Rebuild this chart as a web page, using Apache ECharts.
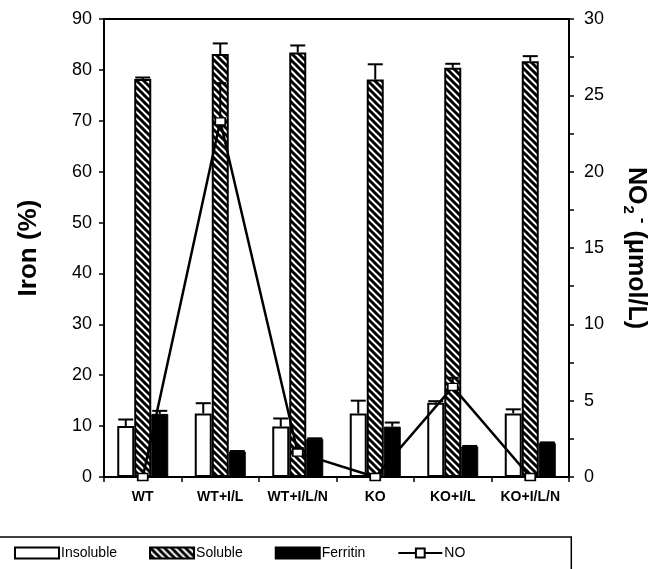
<!DOCTYPE html>
<html>
<head>
<meta charset="utf-8">
<script src="https://cdn.jsdelivr.net/npm/echarts@6/dist/echarts.min.js"></script>
<style>
html,body{margin:0;padding:0;background:#fff;}
#c{width:656px;height:569px;}
</style>
</head>
<body>
<div id="c"></div>
<script>
var categories = ['WT', 'WT+I/L', 'WT+I/L/N', 'KO', 'KO+I/L', 'KO+I/L/N'];
var insoluble = [10.0, 12.5, 9.9, 12.5, 14.6, 12.5];
var insolubleErr = [1.3, 2.0, 1.6, 2.5, 0.3, 0.8];
var soluble = [78.2, 83.1, 83.4, 78.1, 80.4, 81.7];
var solubleErr = [0.3, 2.1, 1.4, 3.0, 0.8, 1.0];
var ferritin = [12.4, 5.0, 7.5, 9.9, 6.0, 6.7];
var ferritinErr = [0.6, 0.1, 0.1, 0.8, 0.1, 0.1];
var no2 = [0, 23.3, 1.6, 0, 5.9, 0];
var no2Err = [0, 2.5, 0.3, 0, 0.6, 0];
var leftTicks = [0, 10, 20, 30, 40, 50, 60, 70, 80, 90];
var rightTicks = [0, 5, 10, 15, 20, 25, 30];

var BAR_W = 17;
var FONT = 'Liberation Sans, Arial, sans-serif';

function makeHatch() {
  var s = 7;
  var cv = document.createElement('canvas');
  cv.width = s; cv.height = s;
  var ctx = cv.getContext('2d');
  ctx.fillStyle = '#fff';
  ctx.fillRect(0, 0, s, s);
  ctx.strokeStyle = '#000';
  ctx.lineWidth = 3;
  ctx.beginPath();
  ctx.moveTo(-1, -1); ctx.lineTo(s + 1, s + 1);
  ctx.moveTo(-1 - s, -1); ctx.lineTo(1, s + 1);
  ctx.moveTo(s - 1, -1); ctx.lineTo(2 * s + 1, s + 1);
  ctx.stroke();
  return cv;
}
var hatch = makeHatch();

function errData(vals, errs) {
  return vals.map(function (v, i) { return [i, v, v + errs[i]]; });
}

function errSeries(vals, errs, offset, capW, yIdx) {
  return {
    type: 'custom',
    yAxisIndex: yIdx || 0,
    z: 10,
    silent: true,
    data: errData(vals, errs),
    renderItem: function (params, api) {
      var top = api.value(2), base = api.value(1);
      if (top - base <= 0) return null;
      var p0 = api.coord([api.value(0), base]);
      var p1 = api.coord([api.value(0), top]);
      var x = p0[0] + offset;
      var st = { stroke: '#000', lineWidth: 2 };
      return {
        type: 'group',
        children: [
          { type: 'line', shape: { x1: x, y1: p0[1], x2: x, y2: p1[1] }, style: st },
          { type: 'line', shape: { x1: x - capW / 2, y1: p1[1], x2: x + capW / 2, y2: p1[1] }, style: st }
        ]
      };
    }
  };
}

var chart = echarts.init(document.getElementById('c'), null, { renderer: 'canvas' });
var option = {
  animation: false,
  backgroundColor: '#fff',
  grid: {
    left: 104, right: 87, top: 19, bottom: 92,
    containLabel: false, outerBoundsMode: 'none',
    show: true, borderColor: '#000', borderWidth: 2, backgroundColor: 'transparent'
  },
  legend: {
    data: [
      { name: 'Insoluble', icon: 'rect' },
      { name: 'Soluble', icon: 'rect' },
      { name: 'Ferritin', icon: 'rect' },
      { name: 'NO' }
    ],
    left: -2, top: 537,
    padding: [9, 106, 12, 16],
    itemGap: 32,
    itemWidth: 44, itemHeight: 11,
    borderColor: '#000', borderWidth: 1.5,
    textStyle: { fontFamily: FONT, fontSize: 14, color: '#000', padding: [0, 0, 0, -3] }
  },
  xAxis: {
    type: 'category',
    data: categories,
    axisLine: { lineStyle: { color: '#000', width: 2 } },
    axisTick: { show: true, length: 5, lineStyle: { color: '#000', width: 1.5 } },
    axisLabel: { interval: 0, color: '#000', fontFamily: FONT, fontSize: 14, fontWeight: 'bold', margin: 13 }
  },
  yAxis: [
    {
      type: 'value', min: 0, max: 90, interval: 10,
      name: 'Iron (%)', nameLocation: 'middle', nameRotate: 90, nameGap: 62,
      nameTextStyle: { fontFamily: FONT, fontSize: 26, fontWeight: 'bold', color: '#000' },
      axisLine: { show: true, lineStyle: { color: '#000', width: 2 } },
      axisTick: { show: true, length: 5, lineStyle: { color: '#000', width: 1.5 } },
      axisLabel: { color: '#000', fontFamily: FONT, fontSize: 18, margin: 12,
        formatter: function (v) { return leftTicks.indexOf(v) >= 0 ? String(v) : ''; } },
      splitLine: { show: false }
    },
    {
      type: 'value', min: 0, max: 30, interval: 5, position: 'right',
      name: '{a|NO}{s|2}{p|-}{a| (μmol/L)}', nameLocation: 'middle', nameRotate: -90, nameGap: 52,
      nameTextStyle: {
        fontFamily: FONT, fontSize: 25, fontWeight: 'bold', color: '#000',
        rich: {
          a: { fontFamily: FONT, fontSize: 25, fontWeight: 'bold', color: '#000', lineHeight: 30, verticalAlign: 'middle' },
          s: { fontFamily: FONT, fontSize: 15, fontWeight: 'bold', color: '#000', lineHeight: 30, verticalAlign: 'bottom', padding: [0, 0, 0, 1] },
          p: { fontFamily: FONT, fontSize: 17, fontWeight: 'bold', color: '#000', lineHeight: 30, verticalAlign: 'top', padding: [0, 0, 0, 4] }
        }
      },
      axisLine: { show: true, lineStyle: { color: '#000', width: 2 } },
      axisTick: { show: true, length: 5, lineStyle: { color: '#000', width: 1.5 } },
      minorTick: { show: true, splitNumber: 2, length: 5, lineStyle: { color: '#000', width: 1.5 } },
      axisLabel: { color: '#000', fontFamily: FONT, fontSize: 18, margin: 15,
        formatter: function (v) { return rightTicks.indexOf(v) >= 0 ? String(v) : ''; } },
      splitLine: { show: false }
    }
  ],
  series: [
    {
      name: 'Insoluble', type: 'bar', data: insoluble, barWidth: BAR_W, barGap: '0%',
      itemStyle: { color: '#fff', borderColor: '#000', borderWidth: 2 }
    },
    {
      name: 'Soluble', type: 'bar', data: soluble, barWidth: BAR_W, barGap: '0%',
      itemStyle: { color: { image: hatch, repeat: 'repeat' }, borderColor: '#000', borderWidth: 2 }
    },
    {
      name: 'Ferritin', type: 'bar', data: ferritin, barWidth: BAR_W, barGap: '0%',
      itemStyle: { color: '#000', borderColor: '#000', borderWidth: 1 }
    },
    errSeries(insoluble, insolubleErr, -BAR_W, 15, 0),
    errSeries(soluble, solubleErr, 0, 15, 0),
    errSeries(ferritin, ferritinErr, BAR_W, 15, 0),
    {
      name: 'NO', type: 'line', yAxisIndex: 1, data: no2, z: 20,
      symbol: 'rect', symbolSize: [10, 7], showAllSymbol: true,
      lineStyle: { color: '#000', width: 2.5 },
      itemStyle: { color: '#fff', borderColor: '#000', borderWidth: 1.5 }
    },
    errSeries(no2, no2Err, 0, 12, 1)
  ]
};
chart.setOption(option);
</script>
</body>
</html>
